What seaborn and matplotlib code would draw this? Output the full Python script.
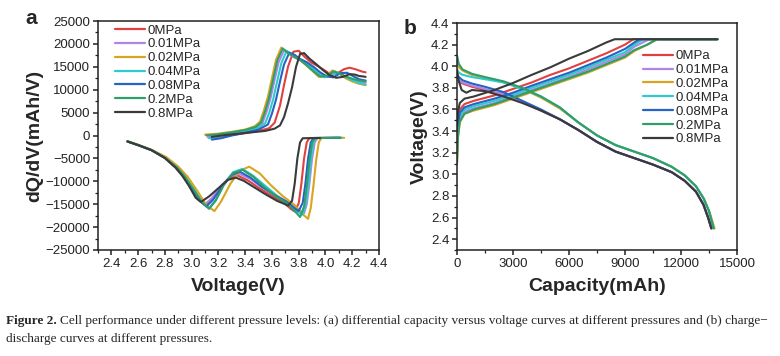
import matplotlib
matplotlib.use('Agg')
import matplotlib.pyplot as plt
from matplotlib.lines import Line2D
from matplotlib.ticker import MultipleLocator
import seaborn as sns
import pandas as pd

pressures = ['0MPa', '0.01MPa', '0.02MPa', '0.04MPa', '0.08MPa', '0.2MPa', '0.8MPa']
colors = ['#E2403F', '#B185E8', '#D9A520', '#2DCBCB', '#2563C4', '#2E9E6A', '#3A3A3A']

# (a) dQ/dV, charge branch (voltage, dQ/dV)
dqdv_chg_v = {
    '0MPa':    [3.14, 3.22, 3.30, 3.40, 3.50, 3.58, 3.62, 3.66, 3.69, 3.72, 3.76, 3.80, 3.84, 3.89, 3.94, 3.99, 4.04, 4.09, 4.14, 4.18, 4.22, 4.25, 4.28, 4.30],
    '0.01MPa': [3.12, 3.20, 3.30, 3.40, 3.49, 3.53, 3.56, 3.59, 3.62, 3.65, 3.69, 3.73, 3.77, 3.82, 3.87, 3.92, 3.97, 4.02, 4.07, 4.12, 4.17, 4.22, 4.26, 4.30],
    '0.02MPa': [3.10, 3.20, 3.30, 3.40, 3.47, 3.51, 3.54, 3.57, 3.60, 3.63, 3.67, 3.71, 3.75, 3.80, 3.85, 3.90, 3.95, 4.00, 4.05, 4.10, 4.15, 4.20, 4.25, 4.30],
    '0.04MPa': [3.13, 3.20, 3.30, 3.40, 3.50, 3.55, 3.58, 3.61, 3.64, 3.67, 3.71, 3.75, 3.79, 3.84, 3.89, 3.94, 3.99, 4.04, 4.09, 4.14, 4.19, 4.24, 4.27, 4.30],
    '0.08MPa': [3.15, 3.22, 3.30, 3.40, 3.50, 3.57, 3.60, 3.63, 3.66, 3.69, 3.73, 3.77, 3.81, 3.86, 3.91, 3.96, 4.01, 4.06, 4.11, 4.16, 4.21, 4.25, 4.28, 4.30],
    '0.2MPa':  [3.11, 3.20, 3.30, 3.40, 3.48, 3.52, 3.55, 3.58, 3.61, 3.64, 3.68, 3.72, 3.76, 3.81, 3.86, 3.91, 3.96, 4.01, 4.06, 4.11, 4.16, 4.21, 4.26, 4.30],
    '0.8MPa':  [3.15, 3.25, 3.35, 3.45, 3.55, 3.62, 3.66, 3.69, 3.72, 3.75, 3.78, 3.81, 3.84, 3.88, 3.93, 3.98, 4.03, 4.08, 4.13, 4.18, 4.22, 4.25, 4.28, 4.30],
}
dqdv_chg_q = {
    '0MPa':    [-500, -200, 100, 500, 1000, 1600, 2800, 6500, 11000, 15000, 18300, 18500, 17300, 16000, 15200, 14300, 13300, 13600, 14500, 14800, 14500, 14200, 13900, 13800],
    '0.01MPa': [-400, 0, 400, 1000, 1800, 2800, 5200, 8200, 12200, 16000, 18600, 17800, 17000, 16300, 15200, 13900, 12800, 13100, 14000, 13300, 12600, 12000, 11700, 11500],
    '0.02MPa': [200, 400, 800, 1300, 2000, 3000, 5500, 8500, 12500, 16500, 19200, 18300, 17500, 16700, 15500, 14200, 12800, 12800, 14200, 13600, 12500, 11800, 11300, 11000],
    '0.04MPa': [-600, -200, 300, 900, 1700, 2700, 5000, 8000, 12000, 15800, 18500, 17700, 16900, 16200, 15000, 13700, 12700, 13000, 13800, 13000, 12200, 11600, 11300, 11100],
    '0.08MPa': [-900, -600, 0, 600, 1300, 2400, 4800, 7800, 11800, 15500, 18100, 17600, 16700, 16000, 15000, 13800, 12900, 12700, 13600, 13700, 12900, 12300, 12100, 12000],
    '0.2MPa':  [0, 300, 700, 1200, 1900, 2900, 5400, 8400, 12400, 16400, 19000, 18000, 17300, 16500, 15300, 14000, 12900, 13000, 14000, 13400, 12800, 12300, 12000, 11800],
    '0.8MPa':  [-300, 100, 400, 700, 1000, 1500, 2200, 4000, 7000, 10500, 15000, 17800, 18000, 16800, 15600, 14300, 13200, 12600, 12800, 13400, 13300, 13000, 12900, 12800],
}

# (a) dQ/dV, discharge branch
dqdv_dis_v = {
    '0MPa':    [4.10, 3.88, 3.86, 3.84, 3.82, 3.80, 3.77, 3.74, 3.69, 3.60, 3.50, 3.42, 3.34, 3.28, 3.22, 3.15, 3.10, 3.05, 2.99, 2.94, 2.88, 2.80, 2.70, 2.60, 2.52],
    '0.01MPa': [4.12, 3.94, 3.92, 3.90, 3.88, 3.86, 3.84, 3.80, 3.74, 3.64, 3.53, 3.44, 3.35, 3.29, 3.22, 3.15, 3.10, 3.05, 2.99, 2.94, 2.88, 2.80, 2.70, 2.60, 2.52],
    '0.02MPa': [4.14, 3.97, 3.95, 3.93, 3.91, 3.89, 3.87, 3.83, 3.77, 3.68, 3.59, 3.51, 3.43, 3.36, 3.29, 3.22, 3.17, 3.11, 3.04, 2.97, 2.90, 2.81, 2.70, 2.60, 2.52],
    '0.04MPa': [4.12, 3.93, 3.91, 3.89, 3.87, 3.85, 3.83, 3.79, 3.73, 3.64, 3.55, 3.46, 3.38, 3.31, 3.24, 3.18, 3.13, 3.08, 3.01, 2.95, 2.89, 2.80, 2.70, 2.60, 2.52],
    '0.08MPa': [4.11, 3.91, 3.89, 3.87, 3.85, 3.83, 3.80, 3.77, 3.71, 3.62, 3.52, 3.44, 3.36, 3.30, 3.23, 3.16, 3.11, 3.06, 3.00, 2.94, 2.88, 2.80, 2.70, 2.60, 2.52],
    '0.2MPa':  [4.11, 3.92, 3.90, 3.88, 3.86, 3.84, 3.81, 3.78, 3.72, 3.63, 3.54, 3.46, 3.38, 3.31, 3.24, 3.18, 3.13, 3.08, 3.01, 2.95, 2.89, 2.80, 2.70, 2.60, 2.52],
    '0.8MPa':  [3.96, 3.83, 3.81, 3.79, 3.77, 3.75, 3.72, 3.69, 3.64, 3.55, 3.45, 3.39, 3.33, 3.27, 3.20, 3.13, 3.07, 3.03, 2.98, 2.93, 2.88, 2.80, 2.70, 2.60, 2.52],
}
dqdv_dis_q = {
    '0MPa':    [-500, -550, -1500, -5000, -10500, -14800, -16600, -16000, -14700, -13200, -11400, -9800, -8700, -9300, -11300, -13800, -15200, -14000, -11300, -9000, -7000, -4900, -3200, -2100, -1300],
    '0.01MPa': [-500, -550, -1500, -5000, -10500, -15000, -17000, -16300, -14800, -13300, -11400, -9500, -8300, -8900, -11000, -13700, -15000, -14000, -11300, -9000, -7000, -4900, -3200, -2100, -1300],
    '0.02MPa': [-500, -550, -1500, -5500, -11000, -15800, -18200, -17200, -15200, -13200, -10800, -8300, -6800, -7700, -10500, -14400, -16500, -15200, -12000, -9000, -6800, -4700, -3100, -2000, -1200],
    '0.04MPa': [-500, -550, -1500, -5500, -11000, -15300, -17300, -16600, -14900, -13200, -11000, -8800, -7300, -8000, -10700, -14100, -15900, -14600, -11500, -9000, -7000, -4900, -3200, -2100, -1300],
    '0.08MPa': [-500, -550, -1500, -5000, -10500, -14700, -16500, -15900, -14500, -13000, -11100, -9200, -7900, -8600, -11000, -14000, -15500, -14300, -11400, -8900, -7000, -4900, -3200, -2100, -1300],
    '0.2MPa':  [-500, -550, -1500, -5500, -11000, -15500, -17800, -16800, -15000, -13300, -11200, -9000, -7500, -8200, -10800, -14200, -16000, -14700, -11600, -9000, -7000, -4900, -3200, -2100, -1300],
    '0.8MPa':  [-550, -600, -1500, -5000, -10500, -14300, -15300, -14900, -14300, -12800, -11000, -9900, -9200, -9700, -11500, -13300, -14500, -13600, -11000, -8800, -7000, -4900, -3200, -2100, -1300],
}

# (b) charge curves (capacity, voltage)
chg_cap = {
    '0MPa':    [0, 50, 150, 400, 900, 2000, 3000, 4000, 5000, 6000, 7000, 8000, 9000, 9450, 13950],
    '0.01MPa': [0, 50, 150, 400, 900, 2000, 3000, 4000, 5000, 6000, 7000, 8000, 9000, 9500, 10300, 13950],
    '0.02MPa': [0, 50, 150, 400, 900, 2000, 3000, 4000, 5000, 6000, 7000, 8000, 9000, 9500, 10200, 10750, 13950],
    '0.04MPa': [0, 50, 150, 400, 900, 2000, 3000, 4000, 5000, 6000, 7000, 8000, 9000, 9500, 10000, 13950],
    '0.08MPa': [0, 50, 150, 400, 900, 2000, 3000, 4000, 5000, 6000, 7000, 8000, 9000, 9500, 9800, 13950],
    '0.2MPa':  [0, 50, 150, 400, 900, 2000, 3000, 4000, 5000, 6000, 7000, 8000, 9000, 9500, 10200, 10700, 13950],
    '0.8MPa':  [0, 50, 150, 400, 900, 2000, 3000, 4000, 5000, 6000, 7000, 8000, 8450, 13950],
}
chg_volt = {
    '0MPa':    [3.35, 3.50, 3.60, 3.65, 3.68, 3.73, 3.79, 3.85, 3.92, 3.98, 4.05, 4.12, 4.20, 4.25, 4.25],
    '0.01MPa': [3.15, 3.38, 3.51, 3.58, 3.61, 3.66, 3.72, 3.78, 3.84, 3.90, 3.97, 4.04, 4.11, 4.18, 4.25, 4.25],
    '0.02MPa': [3.10, 3.33, 3.48, 3.56, 3.59, 3.64, 3.70, 3.76, 3.82, 3.88, 3.94, 4.01, 4.08, 4.14, 4.20, 4.25, 4.25],
    '0.04MPa': [3.20, 3.42, 3.54, 3.60, 3.63, 3.68, 3.735, 3.80, 3.86, 3.92, 3.99, 4.06, 4.13, 4.20, 4.25, 4.25],
    '0.08MPa': [3.30, 3.47, 3.57, 3.62, 3.65, 3.70, 3.755, 3.82, 3.88, 3.94, 4.01, 4.08, 4.16, 4.22, 4.25, 4.25],
    '0.2MPa':  [3.10, 3.35, 3.49, 3.56, 3.60, 3.65, 3.71, 3.77, 3.83, 3.89, 3.95, 4.02, 4.09, 4.15, 4.20, 4.25, 4.25],
    '0.8MPa':  [3.45, 3.58, 3.66, 3.70, 3.72, 3.78, 3.845, 3.92, 3.99, 4.07, 4.14, 4.22, 4.25, 4.25],
}

# (b) discharge curves
dis_cap = {
    '0MPa':    [0, 100, 300, 800, 1500, 2500, 3500, 4500, 5500, 6500, 7500, 8500, 9500, 10500, 11500, 12200, 12800, 13200, 13450, 13620],
    '0.01MPa': [0, 100, 300, 800, 1500, 2500, 3500, 4500, 5500, 6500, 7500, 8500, 9500, 10500, 11500, 12200, 12800, 13200, 13470, 13650],
    '0.02MPa': [0, 100, 300, 800, 1500, 2500, 3500, 4500, 5500, 6500, 7500, 8500, 9500, 10500, 11500, 12200, 12800, 13250, 13550, 13800],
    '0.04MPa': [0, 100, 300, 800, 1500, 2500, 3500, 4500, 5500, 6500, 7500, 8500, 9500, 10500, 11500, 12200, 12800, 13200, 13500, 13750],
    '0.08MPa': [0, 100, 300, 800, 1500, 2500, 3500, 4500, 5500, 6500, 7500, 8500, 9500, 10500, 11500, 12200, 12800, 13200, 13450, 13640],
    '0.2MPa':  [0, 100, 300, 800, 1500, 2500, 3500, 4500, 5500, 6500, 7500, 8500, 9500, 10500, 11500, 12200, 12800, 13200, 13500, 13750],
    '0.8MPa':  [0, 100, 250, 500, 800, 1500, 2500, 3500, 4500, 5500, 6500, 7500, 8500, 9500, 10500, 11500, 12200, 12800, 13200, 13450, 13620],
}
dis_volt = {
    '0MPa':    [3.90, 3.86, 3.84, 3.81, 3.78, 3.74, 3.67, 3.59, 3.51, 3.41, 3.30, 3.21, 3.15, 3.09, 3.02, 2.94, 2.84, 2.72, 2.60, 2.50],
    '0.01MPa': [3.90, 3.87, 3.85, 3.82, 3.79, 3.74, 3.67, 3.59, 3.51, 3.41, 3.30, 3.21, 3.15, 3.09, 3.02, 2.94, 2.84, 2.72, 2.60, 2.50],
    '0.02MPa': [4.05, 3.99, 3.96, 3.92, 3.89, 3.85, 3.79, 3.71, 3.61, 3.48, 3.36, 3.27, 3.21, 3.15, 3.07, 2.99, 2.89, 2.77, 2.64, 2.50],
    '0.04MPa': [3.97, 3.94, 3.92, 3.90, 3.88, 3.85, 3.79, 3.72, 3.62, 3.48, 3.36, 3.27, 3.21, 3.15, 3.07, 2.99, 2.89, 2.78, 2.66, 2.50],
    '0.08MPa': [3.93, 3.90, 3.87, 3.84, 3.81, 3.76, 3.68, 3.60, 3.51, 3.41, 3.30, 3.21, 3.15, 3.09, 3.02, 2.94, 2.84, 2.72, 2.60, 2.50],
    '0.2MPa':  [4.10, 4.02, 3.97, 3.93, 3.90, 3.86, 3.80, 3.72, 3.62, 3.48, 3.36, 3.27, 3.21, 3.15, 3.07, 2.99, 2.89, 2.78, 2.66, 2.50],
    '0.8MPa':  [3.96, 3.86, 3.78, 3.755, 3.78, 3.77, 3.72, 3.66, 3.59, 3.51, 3.41, 3.30, 3.21, 3.15, 3.09, 3.02, 2.94, 2.84, 2.72, 2.60, 2.50],
}


def long_frame(xs_a, ys_a, xs_b, ys_b, xname, yname):
    rows = []
    for p in pressures:
        for x, y in zip(xs_a[p], ys_a[p]):
            rows.append((p, 'up', x, y))
        for x, y in zip(xs_b[p], ys_b[p]):
            rows.append((p, 'down', x, y))
    return pd.DataFrame(rows, columns=['pressure', 'branch', xname, yname])


df_a = long_frame(dqdv_chg_v, dqdv_chg_q, dqdv_dis_v, dqdv_dis_q, 'V', 'dQdV')
df_b = long_frame(chg_cap, chg_volt, dis_cap, dis_volt, 'cap', 'V')

sns.set_theme(style='ticks')
plt.rcParams['font.family'] = ['Liberation Sans', 'DejaVu Sans']
plt.rcParams['axes.linewidth'] = 1.1

palette = dict(zip(pressures, colors))

fig = plt.figure(figsize=(7.8, 3.56), dpi=100)
ax_a = fig.add_axes([98 / 780, 106 / 356, 281 / 780, 229 / 356])
ax_b = fig.add_axes([457 / 780, 106 / 356, 280 / 780, 227 / 356])

sns.lineplot(data=df_a, x='V', y='dQdV', hue='pressure', hue_order=pressures,
             palette=palette, units='branch', estimator=None, sort=False,
             lw=1.5, legend=False, ax=ax_a)
sns.lineplot(data=df_b, x='cap', y='V', hue='pressure', hue_order=pressures,
             palette=palette, units='branch', estimator=None, sort=False,
             lw=1.5, legend=False, ax=ax_b)

ax_a.set_xlim(2.3, 4.4)
ax_a.set_ylim(-25000, 25000)
ax_a.xaxis.set_major_locator(MultipleLocator(0.2))
ax_a.xaxis.set_minor_locator(MultipleLocator(0.1))
ax_a.yaxis.set_major_locator(MultipleLocator(5000))
ax_a.yaxis.set_minor_locator(MultipleLocator(2500))
ax_a.xaxis.set_major_formatter('{x:.1f}')

ax_b.set_xlim(0, 15000)
ax_b.set_ylim(2.3, 4.4)
ax_b.xaxis.set_major_locator(MultipleLocator(3000))
ax_b.xaxis.set_minor_locator(MultipleLocator(1500))
ax_b.yaxis.set_major_locator(MultipleLocator(0.2))
ax_b.yaxis.set_minor_locator(MultipleLocator(0.1))
ax_b.yaxis.set_major_formatter('{x:.1f}')

for ax in (ax_a, ax_b):
    for s in ax.spines.values():
        s.set_visible(True)
        s.set_color('#222222')
    ax.tick_params(which='major', direction='out', length=3.5, width=1.1,
                   labelsize=9.5, colors='#222222', pad=2)
    ax.tick_params(which='minor', direction='out', length=2, width=0.9,
                   colors='#222222')

ax_a.set_xlabel('Voltage(V)', fontsize=14, fontweight='bold', labelpad=6)
ax_a.set_ylabel('dQ/dV(mAh/V)', fontsize=14, fontweight='bold', labelpad=2)
ax_b.set_xlabel('Capacity(mAh)', fontsize=14, fontweight='bold', labelpad=6)
ax_b.set_ylabel('Voltage(V)', fontsize=14, fontweight='bold', labelpad=2)

handles = [Line2D([], [], color=c, lw=1.6) for c in colors]
ax_a.legend(handles, pressures, loc='upper left', bbox_to_anchor=(0.06, 0.985),
            frameon=False, fontsize=9.5, borderpad=0, borderaxespad=0,
            handlelength=2.3, handletextpad=0.15, labelspacing=0.12)
ax_b.legend(handles, pressures, loc='upper left', bbox_to_anchor=(0.664, 0.88),
            frameon=False, fontsize=9.5, borderpad=0, borderaxespad=0,
            handlelength=2.3, handletextpad=0.15, labelspacing=0.12)

fig.text(25 / 780, 1 - 19 / 356, 'a', fontsize=15, fontweight='bold', va='center')
fig.text(404 / 780, 1 - 29 / 356, 'b', fontsize=15, fontweight='bold', va='center')

serif = ['Liberation Serif', 'DejaVu Serif']
cap_size = 9.5
t1 = fig.text(6 / 780, 1 - 321 / 356, 'Figure 2.', fontsize=cap_size, fontweight='bold',
              family=serif, va='center')
fig.canvas.draw()
bb = t1.get_window_extent()
fig.text((bb.x1 + 3) / 780, 1 - 321 / 356,
         'Cell performance under different pressure levels: (a) differential capacity versus '
         'voltage curves at different pressures and (b) charge\u2212',
         fontsize=cap_size, family=serif, va='center')
fig.text(6 / 780, 1 - 339 / 356, 'discharge curves at different pressures.',
         fontsize=cap_size, family=serif, va='center')

fig.savefig('out.png', dpi=100)
